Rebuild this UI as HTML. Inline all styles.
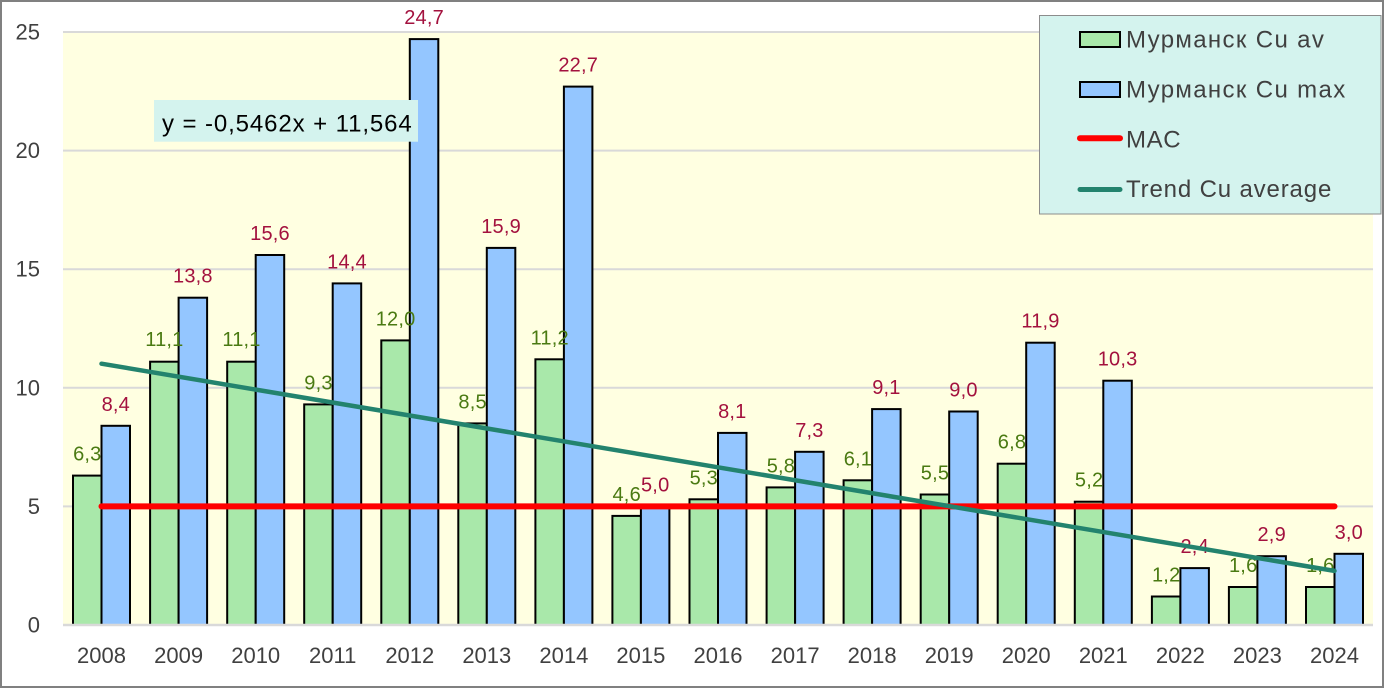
<!DOCTYPE html>
<html><head><meta charset="utf-8"><style>
html,body{margin:0;padding:0;background:#fff;}
svg{display:block;}
text{font-family:"Liberation Sans",sans-serif;}
.yl{font-size:22px;fill:#404040;text-anchor:end;}
.xl{font-size:22px;fill:#404040;text-anchor:middle;}
.g{font-size:20px;fill:#4a7a12;text-anchor:middle;letter-spacing:0.2px;}
.r{font-size:20px;fill:#a3113e;text-anchor:middle;letter-spacing:0.2px;}
.ga{fill:#a9e8aa;stroke:#000;stroke-width:2;}
.bm{fill:#94c6ff;stroke:#000;stroke-width:2;}
.lg{font-size:24px;fill:#404040;}
</style></head><body>
<svg width="1386" height="690" viewBox="0 0 1386 690" xmlns="http://www.w3.org/2000/svg">
<rect x="0" y="0" width="1386" height="690" fill="#fff"/>
<rect x="1" y="1" width="1382" height="686" fill="none" stroke="#808080" stroke-width="2"/>
<rect x="63" y="32" width="1310" height="593" fill="#ffffe1"/>
<g stroke="#d9d9d9" stroke-width="2">
<line x1="63" y1="32" x2="1373" y2="32"/>
<line x1="63" y1="150.6" x2="1373" y2="150.6"/>
<line x1="63" y1="269.2" x2="1373" y2="269.2"/>
<line x1="63" y1="387.8" x2="1373" y2="387.8"/>
<line x1="63" y1="506.4" x2="1373" y2="506.4"/>
</g>
<g class="yl">
<text x="40" y="39.5">25</text>
<text x="40" y="158">20</text>
<text x="40" y="276.7">15</text>
<text x="40" y="395.3">10</text>
<text x="40" y="514">5</text>
<text x="40" y="632.5">0</text>
</g>
<!-- bars -->
<g>
<rect class="ga" x="73" y="475.6" width="28.5" height="149.4"/><rect class="bm" x="101.5" y="425.8" width="28.5" height="199.2"/>
<rect class="ga" x="150.1" y="361.7" width="28.5" height="263.3"/><rect class="bm" x="178.6" y="297.7" width="28.5" height="327.3"/>
<rect class="ga" x="227.2" y="361.7" width="28.5" height="263.3"/><rect class="bm" x="255.7" y="255" width="28.5" height="370"/>
<rect class="ga" x="304.2" y="404.4" width="28.5" height="220.6"/><rect class="bm" x="332.7" y="283.4" width="28.5" height="341.6"/>
<rect class="ga" x="381.3" y="340.4" width="28.5" height="284.6"/><rect class="bm" x="409.8" y="39.1" width="28.5" height="585.9"/>
<rect class="ga" x="458.3" y="423.4" width="28.5" height="201.6"/><rect class="bm" x="486.8" y="247.9" width="28.5" height="377.1"/>
<rect class="ga" x="535.4" y="359.3" width="28.5" height="265.7"/><rect class="bm" x="563.9" y="86.6" width="28.5" height="538.4"/>
<rect class="ga" x="612.4" y="515.9" width="28.5" height="109.1"/><rect class="bm" x="640.9" y="506.4" width="28.5" height="118.6"/>
<rect class="ga" x="689.5" y="499.3" width="28.5" height="125.7"/><rect class="bm" x="718" y="432.9" width="28.5" height="192.1"/>
<rect class="ga" x="766.6" y="487.4" width="28.5" height="137.6"/><rect class="bm" x="795.1" y="451.8" width="28.5" height="173.2"/>
<rect class="ga" x="843.6" y="480.3" width="28.5" height="144.7"/><rect class="bm" x="872.1" y="409.1" width="28.5" height="215.9"/>
<rect class="ga" x="920.7" y="494.5" width="28.5" height="130.5"/><rect class="bm" x="949.2" y="411.5" width="28.5" height="213.5"/>
<rect class="ga" x="997.7" y="463.7" width="28.5" height="161.3"/><rect class="bm" x="1026.2" y="342.7" width="28.5" height="282.3"/>
<rect class="ga" x="1074.8" y="501.7" width="28.5" height="123.3"/><rect class="bm" x="1103.3" y="380.7" width="28.5" height="244.3"/>
<rect class="ga" x="1151.9" y="596.5" width="28.5" height="28.5"/><rect class="bm" x="1180.4" y="568.1" width="28.5" height="56.9"/>
<rect class="ga" x="1228.9" y="587" width="28.5" height="38"/><rect class="bm" x="1257.4" y="556.2" width="28.5" height="68.8"/>
<rect class="ga" x="1306" y="587" width="28.5" height="38"/><rect class="bm" x="1334.5" y="553.8" width="28.5" height="71.2"/>
</g>
<line x1="63" y1="625" x2="1373" y2="625" stroke="#d9d9d9" stroke-width="2.5"/>
<!-- MAC -->
<line x1="101.5" y1="506.4" x2="1334.5" y2="506.4" stroke="#ff0000" stroke-width="6" stroke-linecap="round"/>
<!-- labels -->
<g class="g">
<text x="87.3" y="460.6">6,3</text>
<text x="164.4" y="346.2">11,1</text>
<text x="241.5" y="346.2">11,1</text>
<text x="318.5" y="389.4">9,3</text>
<text x="395.6" y="325.4">12,0</text>
<text x="472.6" y="408.4">8,5</text>
<text x="549.7" y="344.3">11,2</text>
<text x="626.7" y="500.9">4,6</text>
<text x="703.8" y="484.3">5,3</text>
<text x="780.9" y="472.4">5,8</text>
<text x="857.9" y="465.3">6,1</text>
<text x="935" y="479.5">5,5</text>
<text x="1012" y="448.7">6,8</text>
<text x="1089.1" y="486.7">5,2</text>
<text x="1166.2" y="581.5">1,2</text>
<text x="1243.2" y="572">1,6</text>
<text x="1320.3" y="572">1,6</text>
</g>
<g class="r">
<text x="115.8" y="410.8">8,4</text>
<text x="192.9" y="282.7">13,8</text>
<text x="270" y="240">15,6</text>
<text x="347" y="268.4">14,4</text>
<text x="424.1" y="24.1">24,7</text>
<text x="501.1" y="232.9">15,9</text>
<text x="578.2" y="71.6">22,7</text>
<text x="655.2" y="491.4">5,0</text>
<text x="732.3" y="417.9">8,1</text>
<text x="809.4" y="436.8">7,3</text>
<text x="886.4" y="394.1">9,1</text>
<text x="963.5" y="396.5">9,0</text>
<text x="1040.5" y="327.7">11,9</text>
<text x="1117.6" y="365.7">10,3</text>
<text x="1194.7" y="553.1">2,4</text>
<text x="1271.7" y="541.2">2,9</text>
<text x="1348.8" y="538.8">3,0</text>
</g>
<!-- trend -->
<line x1="101.5" y1="363.7" x2="1334.5" y2="570.9" stroke="#23836e" stroke-width="4.5" stroke-linecap="round"/>
<!-- x labels -->
<g class="xl">
<text x="101.5" y="663">2008</text>
<text x="178.6" y="663">2009</text>
<text x="255.7" y="663">2010</text>
<text x="332.7" y="663">2011</text>
<text x="409.8" y="663">2012</text>
<text x="486.8" y="663">2013</text>
<text x="563.9" y="663">2014</text>
<text x="640.9" y="663">2015</text>
<text x="718" y="663">2016</text>
<text x="795.1" y="663">2017</text>
<text x="872.1" y="663">2018</text>
<text x="949.2" y="663">2019</text>
<text x="1026.2" y="663">2020</text>
<text x="1103.3" y="663">2021</text>
<text x="1180.4" y="663">2022</text>
<text x="1257.4" y="663">2023</text>
<text x="1334.5" y="663">2024</text>
</g>
<!-- equation -->
<rect x="154" y="100" width="264" height="41.7" fill="#d4f3ee"/>
<text x="162" y="131.5" style="font-size:24px;fill:#000;letter-spacing:0.9px;">y = -0,5462x + 11,564</text>
<!-- legend -->
<rect x="1039.5" y="15.5" width="341.5" height="198.5" fill="#d4f3ee" stroke="#8c8c8c" stroke-width="1"/>
<rect x="1080" y="32" width="40" height="15" fill="#a9e8aa" stroke="#000" stroke-width="2"/>
<rect x="1080" y="82" width="40" height="15" fill="#94c6ff" stroke="#000" stroke-width="2"/>
<line x1="1080" y1="138.3" x2="1120" y2="138.3" stroke="#ff0000" stroke-width="6" stroke-linecap="round"/>
<line x1="1080" y1="189.5" x2="1120" y2="189.5" stroke="#23836e" stroke-width="5" stroke-linecap="round"/>
<text class="lg" x="1126" y="47.5" style="letter-spacing:1.35px">Мурманск Cu av</text>
<text class="lg" x="1126" y="97.5" style="letter-spacing:1.35px">Мурманск Cu max</text>
<text class="lg" x="1126" y="147.5" style="letter-spacing:0.6px">MAC</text>
<text class="lg" x="1126" y="197" style="letter-spacing:0.85px">Trend Cu average</text>
</svg>
</body></html>
